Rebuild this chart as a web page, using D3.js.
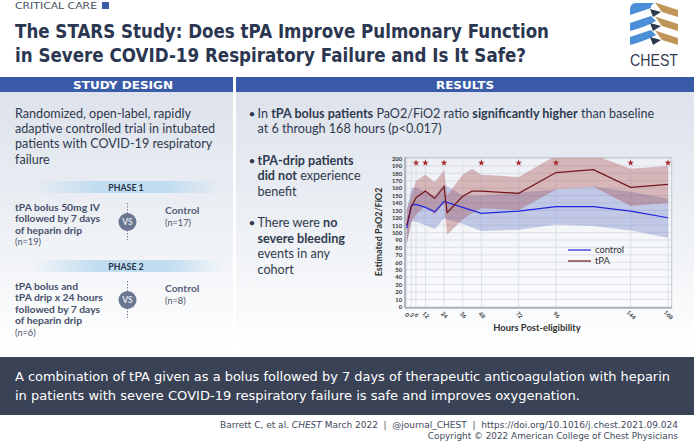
<!DOCTYPE html>
<html><head><meta charset="utf-8">
<script src="https://cdn.jsdelivr.net/npm/d3@7"></script>
<style>html,body{margin:0;padding:0;background:#fff;overflow:hidden}svg{display:block}</style>
</head><body><svg id="c" width="694" height="443"></svg>
<script>
// ---- data ----
const tpaHours   = [0,3,6,12,18,24,26,36,42,48,72,96,120,144,168];
const tpaMean    = [110,135,147,156,146,162,127,149,156,156,153,181,185,161,165];
const tpaUpper   = [130,150,170,178,168,184,150,178,186,178,175,204,205,186,190];
const tpaLower   = [85,115,124,136,124,140,97,118,126,133,130,158,162,136,140];
const ctlHours   = [0,3,6,12,18,24,36,48,72,96,120,144,168];
const ctlMean    = [106,137,138,134,128,142,134,126,129,135,135,129,120];
const ctlUpper   = [130,160,161,155,150,165,150,150,154,158,162,155,146];
const ctlLower   = [83,115,115,110,105,119,112,102,104,111,109,103,93];
const starHours  = [6,12,24,48,72,96,144,168];
const xTicks     = [0,3,6,12,24,36,48,72,96,144,168];
const yTicks     = d3.range(0,201,10);
const legendLabels = ["control","tPA"];
const titleLines = ["The STARS Study: Does tPA Improve Pulmonary Function","in Severe COVID-19 Respiratory Failure and Is It Safe?"];
const designLines = ["Randomized, open-label, rapidly","adaptive controlled trial in intubated","patients with COVID-19 respiratory","failure"];
const phases = [
 {name:"PHASE 1",barY:181,vsY:222,lines:["tPA bolus 50mg IV","followed by 7 days","of heparin drip"],n:"(n=19)",ctl:"(n=17)"},
 {name:"PHASE 2",barY:260,vsY:300,lines:["tPA bolus and","tPA drip x 24 hours","followed by 7 days","of heparin drip"],n:"(n=6)",ctl:"(n=8)"}
];
const bottomLines = ["A combination of tPA given as a bolus followed by 7 days of therapeutic anticoagulation with heparin","in patients with severe COVID-19 respiratory failure is safe and improves oxygenation."];

const svg = d3.select("#c");
const defs = svg.append("defs");
const g1 = defs.append("linearGradient").attr("id","panel").attr("x1",0).attr("x2",0).attr("y1",0).attr("y2",1);
g1.append("stop").attr("offset","0").attr("stop-color","#dde2ec");
g1.append("stop").attr("offset","0.55").attr("stop-color","#eef1f5");
g1.append("stop").attr("offset","1").attr("stop-color","#ffffff");
const g2 = defs.append("linearGradient").attr("id","phase");
g2.append("stop").attr("offset","0").attr("stop-color","#c5dff0").attr("stop-opacity",0);
g2.append("stop").attr("offset","0.35").attr("stop-color","#c0dcf0");
g2.append("stop").attr("offset","0.7").attr("stop-color","#c0dcf0");
g2.append("stop").attr("offset","1").attr("stop-color","#c5dff0").attr("stop-opacity",0);
defs.append("clipPath").attr("id","plotClip").append("rect").attr("x",406).attr("y",158).attr("width",266).attr("height",150);

const DJ = "'DejaVu Sans',Verdana,sans-serif", OS = "Lato,'Open Sans',sans-serif";
const ink = "#2f3a4e";
function t(x,y,s,o={}){
  const e = svg.append("text").attr("x",x).attr("y",y).text(s)
    .attr("font-family",o.f||OS).attr("font-size",o.s||10).attr("fill",o.c||ink)
    .attr("font-weight",o.w||400).attr("text-anchor",o.a||"start");
  if(o.l) e.attr("textLength",o.l).attr("lengthAdjust","spacingAndGlyphs");
  return e;
}
// header
t(15,9,"CRITICAL CARE",{f:DJ,s:8.5,c:"#444c5c",l:82});
svg.append("rect").attr("x",102).attr("y",2).attr("width",7).attr("height",7).attr("fill","#3a5ca8");
titleLines.forEach((s,i)=>t(15,[38,62][i],s,{f:DJ,s:20,w:700,c:"#2b3650",l:[534,511][i]}));

// panels
svg.append("rect").attr("x",0).attr("y",77).attr("width",233).attr("height",15).attr("fill","#3a5ca8");
svg.append("rect").attr("x",236).attr("y",77).attr("width",458).attr("height",15).attr("fill","#3a5ca8");
svg.append("rect").attr("x",0).attr("y",92).attr("width",233).attr("height",258).attr("fill","url(#panel)");
svg.append("rect").attr("x",236).attr("y",92).attr("width",458).attr("height",258).attr("fill","url(#panel)");
t(123,89,"STUDY DESIGN",{f:DJ,s:11,w:700,c:"#fff",a:"middle",l:100});
t(465,89,"RESULTS",{f:DJ,s:11,w:700,c:"#fff",a:"middle",l:58});

designLines.forEach((s,i)=>t(15,[117.7,133,148,164][i],s,{s:12.6,c:ink}));

phases.forEach(p=>{
  svg.append("rect").attr("x",30).attr("y",p.barY).attr("width",195).attr("height",12).attr("fill","url(#phase)");
  t(126,p.barY+9.5,p.name,{s:8.8,w:700,a:"middle",c:"#26324a"});
  const base = p.barY+30;
  p.lines.forEach((s,i)=>t(15,base+i*11.4,s,{s:10.3,w:700,c:"#46506a"}));
  t(15,base+p.lines.length*11.4,p.n,{s:9.2,c:"#4a5468"});
  svg.append("line").attr("x1",127.5).attr("x2",127.5).attr("y1",p.vsY-19).attr("y2",p.vsY+18)
    .attr("stroke","#7a8296").attr("stroke-dasharray","1.5 1.5");
  svg.append("circle").attr("cx",127.5).attr("cy",p.vsY).attr("r",9).attr("fill","#6b7690");
  t(127.5,p.vsY+3,"VS",{s:8.5,w:700,c:"#dfe3ea",a:"middle"});
  t(165,p.vsY-8,"Control",{s:10.3,w:700,c:"#56607a"});
  t(165,p.vsY+4,p.ctl,{s:9.2,c:"#4a5468"});
});

// results text
function rich(x,y,parts,size){
  const e = svg.append("text").attr("x",x).attr("y",y).attr("font-family",OS).attr("font-size",size).attr("fill",ink);
  parts.forEach(([s,b])=>e.append("tspan").text(s).attr("font-weight",b?700:400));
}
const sz=12.6;
[165,227,117.5].forEach(yy=>svg.append("text").attr("x",252).attr("y",yy).attr("font-size",12).attr("font-family",OS).attr("fill",ink).attr("text-anchor","middle").text("•"));
rich(257.5,117.5,[["In ",0],["tPA bolus patients",1],[" PaO2/FiO2 ratio ",0],["significantly higher",1],[" than baseline",0]],sz);
rich(257.5,133,[["at 6 through 168 hours (p<0.017)",0]],sz);
rich(257.5,165,[["tPA-drip patients",1]],sz);
rich(257.5,180,[["did not",1],[" experience",0]],sz);
rich(257.5,195.7,[["benefit",0]],sz);
rich(257.5,227,[["There were ",0],["no",1]],sz);
rich(257.5,243,[["severe bleeding",1]],sz);
rich(257.5,258,[["events in any",0]],sz);
rich(257.5,274,[["cohort",0]],sz);

// chart
const x = d3.scaleLinear().domain([0,168]).range([406.7,668]);
const y = d3.scaleLinear().domain([0,200]).range([306.7,158.5]);
const plot = svg.append("g");
plot.append("rect").attr("x",405).attr("y",157.5).attr("width",267).attr("height",150).attr("fill","#fff").attr("fill-opacity",0.35);
plot.append("g").selectAll("line").data(yTicks).join("line").attr("x1",405).attr("x2",671.5)
  .attr("y1",d=>y(d)).attr("y2",d=>y(d)).attr("stroke","#d5d9e2").attr("stroke-width",0.8);
plot.append("g").selectAll("line").data(xTicks).join("line").attr("y1",157.5).attr("y2",307.5)
  .attr("x1",d=>x(d)).attr("x2",d=>x(d)).attr("stroke","#d5d9e2").attr("stroke-width",0.8);
svg.append("rect").attr("x",405).attr("y",157.5).attr("width",266.7).attr("height",150).attr("fill","none").attr("stroke","#c4c8d0").attr("stroke-width",1);
svg.append("line").attr("x1",405).attr("x2",405).attr("y1",157.5).attr("y2",308).attr("stroke","#a8acb6").attr("stroke-width",1.6);
svg.append("line").attr("x1",405).attr("x2",672).attr("y1",308).attr("y2",308).attr("stroke","#a8acb6").attr("stroke-width",1.6);

const ctlRows = ctlHours.map((h,i)=>({h,m:ctlMean[i],u:ctlUpper[i],l:ctlLower[i]}));
const tpaRows = tpaHours.map((h,i)=>({h,m:tpaMean[i],u:tpaUpper[i],l:tpaLower[i]}));
const area = d3.area().x(d=>x(d.h)).y0(d=>y(d.l)).y1(d=>y(d.u));
const line = d3.line().x(d=>x(d.h)).y(d=>y(d.m));
const data = svg.append("g").attr("clip-path","url(#plotClip)");
data.append("path").datum(ctlRows).attr("d",area).attr("fill","#5a6cc0").attr("fill-opacity",0.32);
data.append("path").datum(tpaRows).attr("d",area).attr("fill","#a03c3c").attr("fill-opacity",0.33);
data.append("path").datum(ctlRows).attr("d",line).attr("fill","none").attr("stroke","#1f24e0").attr("stroke-width",1.2);
data.append("path").datum(tpaRows).attr("d",line).attr("fill","none").attr("stroke","#74141c").attr("stroke-width",1.2);
const star = d3.symbol().type(d3.symbolStar).size(14);
svg.append("g").selectAll("path").data(starHours).join("path").attr("d",star)
  .attr("transform",d=>`translate(${x(d)},${y(194)})`).attr("fill","#a82a30");

const axY = svg.append("g").attr("transform","translate(403,0)")
  .call(d3.axisLeft(y).tickValues(yTicks).tickSize(0).tickPadding(1));
axY.select(".domain").remove();
axY.selectAll("text").attr("font-family",OS).attr("font-size",5.8).attr("font-weight",700).attr("fill","#333");
const axX = svg.append("g").attr("transform","translate(0,309)")
  .call(d3.axisBottom(x).tickValues(xTicks).tickSize(0).tickPadding(3));
axX.select(".domain").remove();
axX.selectAll("text").attr("font-family",OS).attr("font-size",5.8).attr("font-weight",700).attr("fill","#444")
  .attr("text-anchor","middle").attr("x",0).attr("y",8).attr("dy",0)
  .attr("transform","rotate(45 0 6)");
t(0,0,"Estimated PaO2/FiO2",{s:9,w:700,c:"#333",a:"middle"}).attr("transform","translate(382,232) rotate(-90)");
t(537,331,"Hours Post-eligibility",{s:9.4,w:700,c:"#333",a:"middle"});

legendLabels.forEach((s,i)=>{
  const yy=250+i*11;
  svg.append("line").attr("x1",568).attr("x2",591).attr("y1",yy).attr("y2",yy)
    .attr("stroke",i?"#74141c":"#1f24e0").attr("stroke-width",1.2);
  t(595,yy+3,s,{s:9.4,c:"#333"});
});

// logo
const logoBlue="#4a8fd8", logoTan="#bf9658", logoDark="#2f3a4e";
[0,1,2].forEach(i=>{
  const o=i*14;
  if(i===0) svg.append("path").attr("d",`M630 ${10+o}Q630 ${3+o} 636 ${3+o}L654 ${3+o}Q650 ${6+o} 651 ${8+o}L630 ${15+o}Z`).attr("fill",logoBlue);
  if(i>0) svg.append("path").attr("d",`M630 ${9+o}L651 ${2+o}L656 ${7+o}Q645 ${13+o} 630 ${17+o}Z`).attr("fill",logoBlue);
  svg.append("path").attr("d",`M655 ${2.5+o}L678 ${10+o}V${17+o}L662 ${12+o}Z`).attr("fill",logoTan);
  svg.append("path").attr("d",`M650 ${9+o}L661 ${12+o}L653 ${17+o}Z`).attr("fill",logoDark);
});
t(654,66,"CHEST",{f:"'Liberation Sans',Arial,sans-serif",s:16.5,c:"#333c4e",a:"middle",l:48});

// bottom banner
svg.append("rect").attr("x",0).attr("y",357).attr("width",694).attr("height",58).attr("fill","#3a4256");
bottomLines.forEach((s,i)=>t(15,[381,400][i],s,{f:DJ,s:12.2,w:400,c:"#fff",l:[655,565][i]}));
const foot = svg.append("text").attr("x",678).attr("y",428).attr("text-anchor","end").attr("font-family",DJ).attr("font-size",8.9).attr("fill","#3f4a5c").attr("textLength",458).attr("lengthAdjust","spacingAndGlyphs");
foot.append("tspan").text("Barrett C, et al. ");
foot.append("tspan").text("CHEST").attr("font-style","italic");
foot.append("tspan").text(" March 2022\u00a0\u00a0|\u00a0\u00a0@journal_CHEST\u00a0\u00a0|\u00a0\u00a0https://doi.org/10.1016/j.chest.2021.09.024");
t(678,439,"Copyright © 2022 American College of Chest Physicians",{f:DJ,s:8.9,c:"#3f4a5c",a:"end"});
</script></body></html>
